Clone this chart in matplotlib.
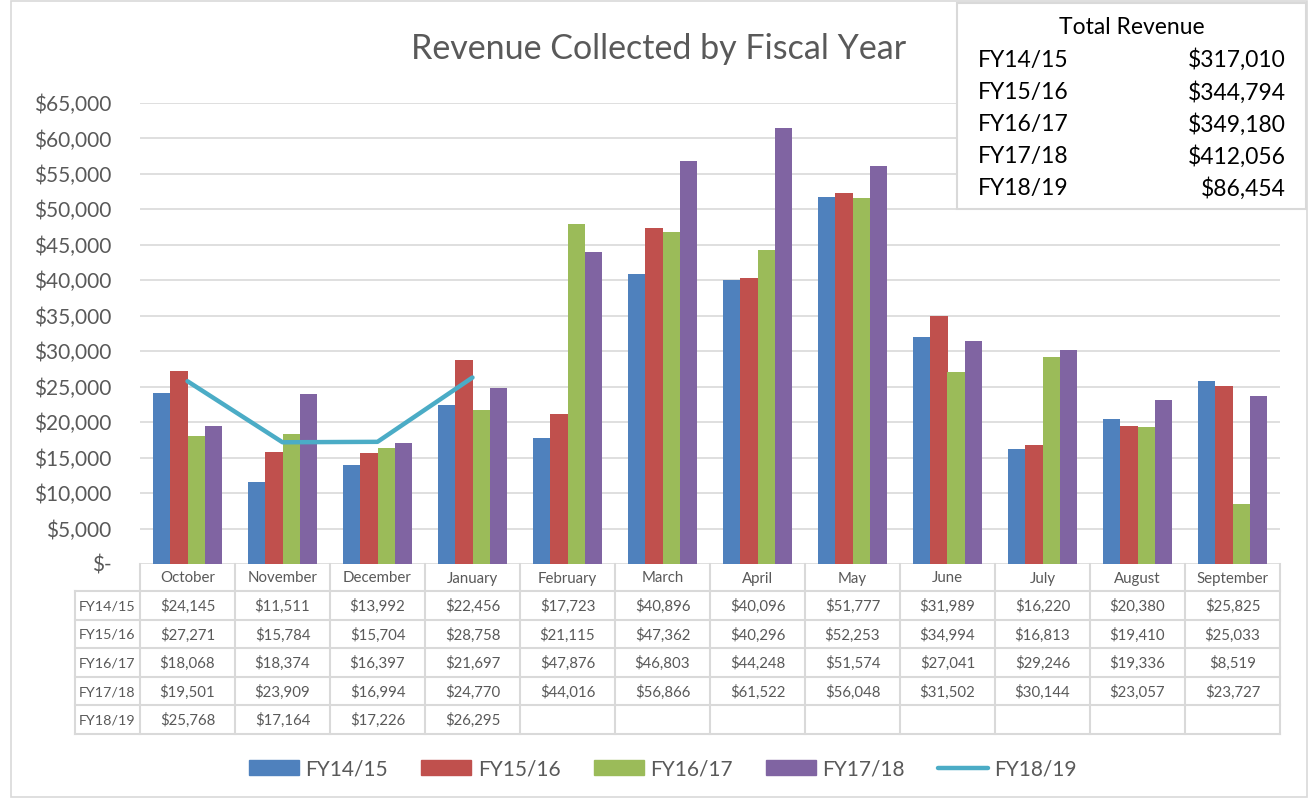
import matplotlib
matplotlib.use("Agg")
import matplotlib.pyplot as plt
from matplotlib.patches import Rectangle, Patch
from matplotlib.lines import Line2D
import numpy as np

plt.rcParams['font.family'] = ['Lato', 'DejaVu Sans']

months = ["October", "November", "December", "January", "February", "March",
          "April", "May", "June", "July", "August", "September"]
fy1415 = [24145, 11511, 13992, 22456, 17723, 40896, 40096, 51777, 31989, 16220, 20380, 25825]
fy1516 = [27271, 15784, 15704, 28758, 21115, 47362, 40296, 52253, 34994, 16813, 19410, 25033]
fy1617 = [18068, 18374, 16397, 21697, 47876, 46803, 44248, 51574, 27041, 29246, 19336, 8519]
fy1718 = [19501, 23909, 16994, 24770, 44016, 56866, 61522, 56048, 31502, 30144, 23057, 23727]
fy1819 = [25768, 17164, 17226, 26295]
series_names = ["FY14/15", "FY15/16", "FY16/17", "FY17/18", "FY18/19"]
totals = ["$317,010", "$344,794", "$349,180", "$412,056", "$86,454"]

colors = ["#4F81BD", "#C0504D", "#9BBB59", "#8064A2"]
line_color = "#4BACC6"
gray_txt = "#595959"
grid_c = "#D9D9D9"

W, H = 1308, 801
fig = plt.figure(figsize=(W / 100, H / 100), dpi=100)

# overlay axes in pixel coordinates
ov = fig.add_axes([0, 0, 1, 1], zorder=0)
ov.set_xlim(0, W)
ov.set_ylim(H, 0)
ov.axis("off")

ax_l, ax_r, ax_t, ax_b = 140, 1280, 103, 564
ax = fig.add_axes([ax_l / W, 1 - ax_b / H, (ax_r - ax_l) / W, (ax_b - ax_t) / H], zorder=1)
ax.patch.set_alpha(0)

x = np.arange(len(months))
w = 0.182
for i, (vals, c) in enumerate(zip([fy1415, fy1516, fy1617, fy1718], colors)):
    ax.bar(x + (i - 1.5) * w, vals, width=w, color=c, zorder=2)
ax.plot(x[:len(fy1819)], fy1819, color=line_color, lw=3.2, zorder=3, solid_capstyle="round")

ax.set_xlim(-0.5, len(months) - 0.5)
ax.set_ylim(0, 65000)
yt = np.arange(0, 65001, 5000)
ax.set_yticks(yt)
ax.set_yticklabels(["$-"] + [f"${v:,.0f}" for v in yt[1:]])
ax.tick_params(axis="y", length=0, pad=20.5, labelsize=15, labelcolor=gray_txt)
ax.set_xticks([])
ax.grid(axis="y", color=grid_c, lw=1.2, zorder=0)
for s in ax.spines.values():
    s.set_visible(False)

# chart border
ov.add_patch(Rectangle((11, 1), W - 12, 796, fill=False, ec=grid_c, lw=1.2))

# title
ov.text(659, 49, "Revenue Collected by Fiscal Year", ha="center", va="center",
        fontsize=24.5, color=gray_txt)

# data table
col_w = (ax_r - ax_l) / len(months)
row_h = 28.6
hdr_top, hdr_bot = ax_b, 591
tbl_left = 75
rows_data = [fy1415, fy1516, fy1617, fy1718, fy1819]
tbl_bot = hdr_bot + row_h * len(rows_data)
lc = "#D9D9D9"
lw = 1.5
for k in range(len(months) + 1):
    xx = ax_l + k * col_w
    ov.plot([xx, xx], [hdr_top, tbl_bot], color=lc, lw=lw, zorder=1)
ov.plot([tbl_left, tbl_left], [hdr_bot, tbl_bot], color=lc, lw=lw, zorder=1)
ov.plot([tbl_left, ax_r], [hdr_bot, hdr_bot], color=lc, lw=lw, zorder=1)
for r in range(1, len(rows_data) + 1):
    yy = hdr_bot + r * row_h
    ov.plot([tbl_left, ax_r], [yy, yy], color=lc, lw=lw, zorder=1)
tfs = 10.8
for k, m in enumerate(months):
    ov.text(ax_l + (k + 0.5) * col_w, (hdr_top + hdr_bot) / 2 + 1, m, ha="center",
            va="center", fontsize=tfs, color=gray_txt)
for r, (name, vals) in enumerate(zip(series_names, rows_data)):
    yc = hdr_bot + (r + 0.5) * row_h + 1
    ov.text((tbl_left + ax_l) / 2, yc, name, ha="center", va="center", fontsize=tfs - 0.5,
            color=gray_txt)
    for k, v in enumerate(vals):
        ov.text(ax_l + (k + 0.5) * col_w, yc, f"${v:,.0f}", ha="center", va="center",
                fontsize=tfs, color=gray_txt)

# total revenue box
box_ax = fig.add_axes([0, 0, 1, 1], zorder=3)
box_ax.set_xlim(0, W)
box_ax.set_ylim(H, 0)
box_ax.axis("off")
box_ax.add_patch(Rectangle((957, 3), 349, 206, fc="white", ec=grid_c, lw=1.5))
box_ax.text(1132, 27, "Total Revenue", ha="center", va="center", fontsize=16.5, color="black")
for i, (n, t) in enumerate(zip(series_names, totals)):
    yy = 60 + i * 32.2
    box_ax.text(978, yy, n, ha="left", va="center", fontsize=16.5, color="black")
    box_ax.text(1286, yy, t, ha="right", va="center", fontsize=16.5, color="black")

# legend
handles = [Patch(color=c) for c in colors] + [Line2D([0], [0], color=line_color, lw=3.2,
                                                        solid_capstyle="round")]
leg = fig.legend(handles, series_names, loc="center", bbox_to_anchor=(663 / W, 1 - 769 / H),
                 ncol=5, frameon=False, fontsize=15, handlelength=2.4, handleheight=0.72,
                 handletextpad=0.3, columnspacing=1.6, labelcolor=gray_txt)

fig.savefig("out.png", dpi=100)
